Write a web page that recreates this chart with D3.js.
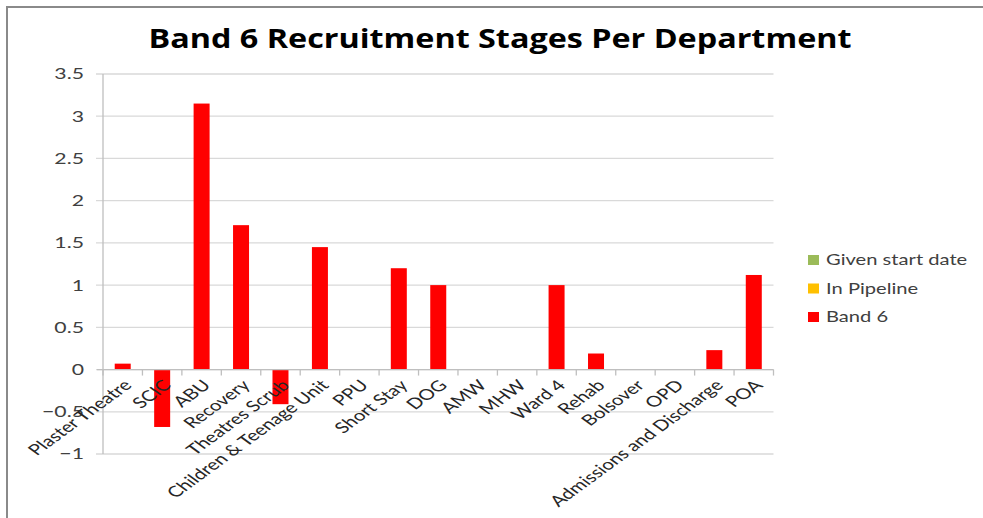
<!DOCTYPE html>
<html><head><meta charset="utf-8">
<script src="https://cdn.jsdelivr.net/npm/d3@7"></script>
<style>body{margin:0;background:#fff}svg{display:block}</style>
</head><body>
<script>
const categories = ["Plaster Theatre","SCIC","ABU","Recovery","Theatres Scrub","Children & Teenage Unit","PPU","Short Stay","DOG","AMW","MHW","Ward 4","Rehab","Bolsover","OPD","Admissions and Discharge","POA"];
const band6 = [0.07,-0.68,3.15,1.71,-0.41,1.45,0,1.2,1.0,0,0,1.0,0.19,0,0,0.23,1.12];
const seriesNames = ["Given start date","In Pipeline","Band 6"];
const seriesColors = ["#9BBB59","#FFC000","#FF0000"];
const yTicks = [-1,-0.5,0,0.5,1,1.5,2,2.5,3,3.5];
const title = "Band 6 Recruitment Stages Per Department";

const W=983,H=518, SX=1.37;
const svg=d3.select("body").append("svg").attr("width",W).attr("height",H);
// frame
svg.append("path").attr("d",`M7,${H} L7,7 L${W},7`).attr("fill","none").attr("stroke","#8a8a8a").attr("stroke-width",2);

const x=d3.scaleBand().domain(categories).range([103,773.5]).paddingInner(0).paddingOuter(0);
const y=d3.scaleLinear().domain([-1,3.5]).range([454,74]);

// gridlines
svg.append("g").selectAll("line").data(yTicks).join("line")
  .attr("x1",96).attr("x2",773.5).attr("y1",d=>y(d)).attr("y2",d=>y(d))
  .attr("stroke","#d9d9d9").attr("stroke-width",1.3);
// y axis line
svg.append("line").attr("x1",103).attr("x2",103).attr("y1",74).attr("y2",454).attr("stroke","#bfbfbf").attr("stroke-width",1.3);
// y labels
svg.append("g").selectAll("text").data(yTicks).join("text")
  .attr("transform",d=>`translate(84,${y(d)}) scale(${SX},1)`).attr("dy","0.35em").attr("text-anchor","end")
  .attr("font-family","Lato, sans-serif").attr("font-size",15.5).attr("fill","#404040")
  .text(d=>d3.format("")(d));

// bars
const bw=16;
svg.append("g").selectAll("rect").data(band6).join("rect")
  .attr("x",(d,i)=>x(categories[i])+x.bandwidth()/2-bw/2).attr("width",bw)
  .attr("y",d=>y(Math.max(0,d))).attr("height",d=>Math.abs(y(d)-y(0)))
  .attr("fill",seriesColors[2]);

// x axis line at zero
svg.append("line").attr("x1",97).attr("x2",773.5).attr("y1",y(0)).attr("y2",y(0)).attr("stroke","#bfbfbf").attr("stroke-width",1.3);
// tick marks at band boundaries
const bounds=categories.map(c=>x(c)).concat([x.range()[1]]);
svg.append("g").selectAll("line").data(bounds).join("line")
  .attr("x1",d=>d).attr("x2",d=>d).attr("y1",y(0)).attr("y2",y(0)+6)
  .attr("stroke","#bfbfbf").attr("stroke-width",1.3);

// category labels
svg.append("g").selectAll("text").data(categories).join("text")
  .attr("transform",d=>`translate(${x(d)+x.bandwidth()/2+5},${y(0)+13}) scale(${SX},1) rotate(-45)`)
  .attr("text-anchor","end").attr("dy","0.35em")
  .attr("font-family","Lato, sans-serif").attr("font-size",15).attr("fill","#262626")
  .text(d=>d);

// title
svg.append("text").attr("x",500).attr("y",48).attr("text-anchor","middle")
  .attr("font-family","Open Sans, Lato, sans-serif").attr("font-weight","bold").attr("font-size",27)
  .attr("textLength",703).attr("lengthAdjust","spacingAndGlyphs").attr("fill","#000")
  .text(title);

// legend
const lg=svg.append("g");
seriesNames.forEach((n,i)=>{
  const yy=260+i*28.5;
  lg.append("rect").attr("x",808).attr("y",yy-5).attr("width",11).attr("height",10).attr("fill",seriesColors[i]);
  lg.append("text").attr("transform",`translate(826,${yy}) scale(1.3,1)`).attr("dy","0.35em")
    .attr("font-family","Lato, sans-serif").attr("font-size",15.5).attr("fill","#404040").text(n);
});
</script>
</body></html>
